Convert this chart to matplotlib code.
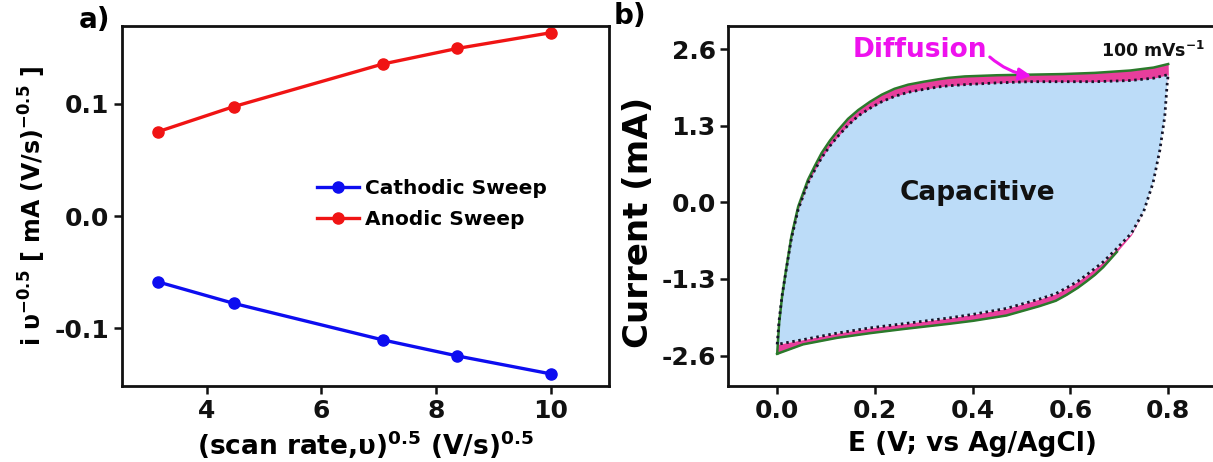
import numpy as np
import matplotlib
matplotlib.use("Agg")
import matplotlib.pyplot as plt

plt.rcParams['font.family'] = ['DejaVu Sans']
plt.rcParams['font.weight'] = 'bold'
plt.rcParams['axes.labelweight'] = 'bold'
plt.rcParams['mathtext.fontset'] = 'dejavusans'
plt.rcParams['mathtext.default'] = 'bf'
plt.rcParams['axes.unicode_minus'] = False

# ---------------- Panel a data ----------------
scan_rate_sqrt = [3.16, 4.47, 7.07, 8.37, 10.0]
cathodic = [-0.0587, -0.0777, -0.1103, -0.1246, -0.1406]
anodic = [0.0754, 0.0976, 0.1356, 0.1495, 0.1635]
a_xticks = [4, 6, 8, 10]
a_yticks = [-0.1, 0.0, 0.1]

# ---------------- Panel b data (CV at 100 mV/s) ----------------
# anodic (upper) branch
up_E = [0.000, 0.004, 0.010, 0.018, 0.029, 0.043, 0.063, 0.077, 0.091, 0.108, 0.125,
        0.145, 0.166, 0.190, 0.214, 0.240, 0.268, 0.300, 0.329, 0.350, 0.384, 0.450,
        0.517, 0.585, 0.650, 0.722, 0.770, 0.800]
up_total = [-2.57, -2.05, -1.60, -1.15, -0.58, -0.07, 0.385, 0.62, 0.84, 1.05, 1.23,
            1.42, 1.57, 1.71, 1.83, 1.93, 2.00, 2.05, 2.09, 2.115, 2.14, 2.16,
            2.17, 2.18, 2.20, 2.24, 2.29, 2.35]
up_cap = [-2.41, -2.00, -1.58, -1.17, -0.62, -0.12, 0.33, 0.55, 0.76, 0.96, 1.13,
          1.31, 1.47, 1.60, 1.71, 1.80, 1.87, 1.92, 1.96, 1.98, 2.00, 2.03,
          2.05, 2.05, 2.05, 2.07, 2.11, 2.17]
# cathodic (lower) branch
lo_E = [0.000, 0.053, 0.122, 0.190, 0.258, 0.353, 0.401, 0.469, 0.537, 0.570, 0.592,
        0.615, 0.633, 0.650, 0.667, 0.695, 0.725, 0.750, 0.769, 0.783, 0.793, 0.798, 0.800]
lo_total = [-2.57, -2.41, -2.30, -2.22, -2.15, -2.06, -2.01, -1.92, -1.76, -1.67, -1.57,
            -1.45, -1.34, -1.23, -1.10, -0.84, -0.55, -0.15, 0.33, 0.89, 1.46, 2.02, 2.35]
lo_cap = [-2.41, -2.33, -2.22, -2.13, -2.06, -1.96, -1.90, -1.80, -1.64, -1.55, -1.45,
          -1.34, -1.23, -1.12, -1.01, -0.78, -0.52, -0.15, 0.33, 0.89, 1.46, 2.02, 2.17]
b_xticks = [0.0, 0.2, 0.4, 0.6, 0.8]
b_yticks = [-2.6, -1.3, 0.0, 1.3, 2.6]

W, H = 1213, 462
fig = plt.figure(figsize=(W / 100, H / 100), dpi=100)

def style_axes(ax):
    for s in ax.spines.values():
        s.set_linewidth(2.0)
        s.set_color('#111111')
    ax.tick_params(direction='out', length=6, width=1.8, labelsize=18, pad=3, colors='#111111')

# ---------------- Panel a ----------------
axA = fig.add_axes([121.7 / W, 76 / H, 487.6 / W, 360 / H])
axA.plot(scan_rate_sqrt, cathodic, '-o', color='#0d0df0', lw=2.4, ms=8, label='Cathodic Sweep')
axA.plot(scan_rate_sqrt, anodic, '-o', color='#f01414', lw=2.4, ms=8, label='Anodic Sweep')
axA.set_xlim(2.52, 11.02)
axA.set_ylim(-0.1514, 0.1695)
axA.set_xticks(a_xticks)
axA.set_xticklabels([str(t) for t in a_xticks])
axA.set_yticks(a_yticks)
axA.set_yticklabels([f"{t:.1f}" for t in a_yticks])
style_axes(axA)
axA.set_xlabel("(scan rate,υ)$^{0.5}$ (V/s)$^{0.5}$", fontsize=19, labelpad=4)
axA.set_ylabel("i υ$^{-0.5}$ [ mA (V/s)$^{-0.5}$ ]", fontsize=17, labelpad=5)
leg = axA.legend(loc='center left', bbox_to_anchor=(0.40, 0.505), frameon=False,
                 fontsize=14.5, handlelength=2.1, handletextpad=0.3, labelspacing=0.6,
                 borderpad=0, borderaxespad=0)

# ---------------- Panel b ----------------
axB = fig.add_axes([728.3 / W, 76 / H, 488.75 / W, 360 / H])
up_E_a = np.array(up_E); lo_E_a = np.array(lo_E)
up_t = np.array(up_total); up_c = np.array(up_cap)
lo_t = np.array(lo_total); lo_c = np.array(lo_cap)

# capacitive area
cap_x = np.concatenate([up_E_a, lo_E_a[::-1]])
cap_y = np.concatenate([up_c, lo_c[::-1]])
axB.fill(cap_x, cap_y, color='#bcdcf8', lw=0, zorder=1)
# diffusion band
axB.fill_between(up_E_a, up_c, up_t, color='#e83e9c', lw=0, zorder=2)
axB.fill_between(lo_E_a, lo_t, lo_c, color='#e83e9c', lw=0, zorder=2)
# total current outline
axB.plot(up_E_a, up_t, color='#2b7a2b', lw=1.8, zorder=3, solid_joinstyle='round')
m = lo_E_a <= 0.72
axB.plot(lo_E_a[m], lo_t[m], color='#2b7a2b', lw=1.8, zorder=3, solid_joinstyle='round')
# capacitive outline (dotted)
axB.plot(np.append(cap_x, cap_x[0]), np.append(cap_y, cap_y[0]), color='#15152a',
         lw=2.0, ls=(0, (0.9, 1.3)), zorder=4)

axB.set_xlim(-0.1, 0.9)
axB.set_ylim(-3.117, 2.996)
axB.set_xticks(b_xticks)
axB.set_xticklabels([f"{t:.1f}" for t in b_xticks])
axB.set_yticks(b_yticks)
axB.set_yticklabels([f"{t:.1f}" for t in b_yticks])
style_axes(axB)
axB.spines['right'].set_visible(False)
axB.set_xlabel("E (V; vs Ag/AgCl)", fontsize=19, labelpad=6)
axB.set_ylabel("Current (mA)", fontsize=24.5, labelpad=2)
axB.yaxis.set_label_coords(-0.15, 0.455)

axB.text(0.41, 0.156, "Capacitive", fontsize=19, ha='center', va='center', color='#111111', zorder=5)
axB.text(0.662, 2.47, "100 mVs$^{-1}$", fontsize=12.5, ha='left', va='baseline', color='#111111', zorder=5)
axB.text(0.292, 2.59, "Diffusion", fontsize=19, ha='center', va='center', color='#ee11ee', zorder=5)
axB.annotate('', xy=(0.52, 2.15), xytext=(0.435, 2.47),
             arrowprops=dict(arrowstyle='-|>', color='#ee11ee', lw=2.2, mutation_scale=18,
                             shrinkA=0, shrinkB=0, connectionstyle='arc3,rad=0.15'),
             zorder=5)

fig.text(94 / W, 1 - 20 / H, "a)", fontsize=20, ha='center', va='center')
fig.text(630 / W, 1 - 16 / H, "b)", fontsize=20, ha='center', va='center')

fig.savefig("out.png", dpi=100, facecolor='white')
